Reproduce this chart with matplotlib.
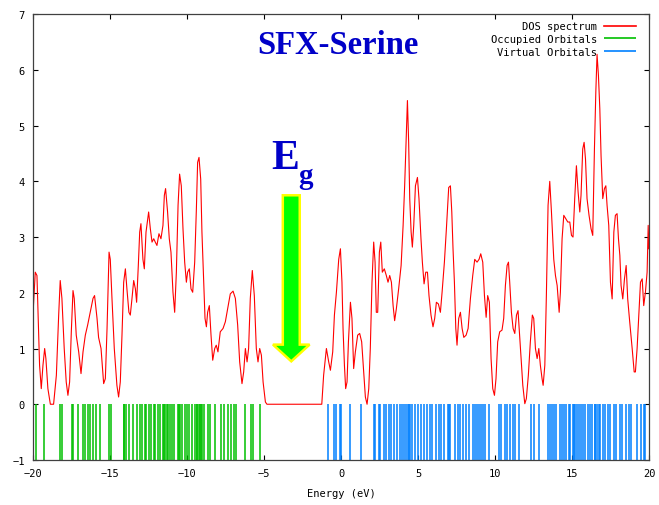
import matplotlib
matplotlib.use("Agg")
import matplotlib.pyplot as plt

# DOS spectrum (energy in eV, density)
dos_energy = [
    -20.00, -19.85, -19.74, -19.57, -19.46, -19.35, -19.24, -19.16, -19.03, -18.87,
    -18.66, -18.48, -18.33, -18.23, -18.12, -17.97, -17.84, -17.73, -17.62, -17.51,
    -17.40, -17.32, -17.19, -17.03, -16.88, -16.75, -16.60, -16.45, -16.28, -16.10,
    -16.00, -15.84, -15.74, -15.58, -15.41, -15.30, -15.19, -15.06, -14.98, -14.87,
    -14.72, -14.55, -14.44, -14.33, -14.22, -14.11, -14.00, -13.90, -13.77, -13.68,
    -13.57, -13.46, -13.35, -13.27, -13.16, -13.07, -12.99, -12.86, -12.77, -12.66,
    -12.49, -12.38, -12.27, -12.16, -12.06, -11.95, -11.82, -11.69, -11.56, -11.47,
    -11.39, -11.26, -11.15, -11.04, -10.91, -10.80, -10.69, -10.58, -10.48, -10.37,
    -10.26, -10.15, -10.04, -9.96, -9.85, -9.74, -9.63, -9.50, -9.39, -9.31,
    -9.22, -9.11, -9.03, -8.92, -8.83, -8.74, -8.66, -8.55, -8.44, -8.33,
    -8.20, -8.10, -7.99, -7.84, -7.66, -7.51, -7.36, -7.19, -7.01, -6.86,
    -6.71, -6.58, -6.43, -6.32, -6.21, -6.10, -6.00, -5.89, -5.76, -5.63,
    -5.50, -5.39, -5.28, -5.17, -5.06, -4.91, -4.81, -1.25, -1.13, -0.95,
    -0.80, -0.69, -0.54, -0.43, -0.30, -0.15, -0.04, 0.06, 0.13, 0.22,
    0.30, 0.39, 0.48, 0.61, 0.71, 0.82, 0.93, 1.08, 1.21, 1.34,
    1.47, 1.58, 1.69, 1.80, 1.90, 2.01, 2.12, 2.21, 2.29, 2.38,
    2.49, 2.58, 2.68, 2.81, 2.94, 3.05, 3.16, 3.27, 3.38, 3.48,
    3.59, 3.74, 3.90, 4.03, 4.13, 4.22, 4.31, 4.39, 4.46, 4.55,
    4.63, 4.72, 4.83, 4.96, 5.06, 5.19, 5.28, 5.39, 5.50, 5.61,
    5.71, 5.84, 5.97, 6.08, 6.19, 6.32, 6.45, 6.56, 6.71, 6.84,
    6.99, 7.10, 7.19, 7.27, 7.36, 7.45, 7.53, 7.64, 7.75, 7.86,
    7.97, 8.12, 8.25, 8.40, 8.55, 8.68, 8.83, 8.96, 9.07, 9.20,
    9.31, 9.42, 9.52, 9.63, 9.74, 9.85, 9.96, 10.06, 10.17, 10.30,
    10.45, 10.56, 10.67, 10.78, 10.87, 10.95, 11.06, 11.17, 11.28, 11.39,
    11.49, 11.58, 11.69, 11.80, 11.93, 12.03, 12.16, 12.29, 12.42, 12.51,
    12.62, 12.73, 12.84, 12.94, 13.05, 13.12, 13.23, 13.33, 13.44, 13.55,
    13.66, 13.81, 13.92, 14.03, 14.16, 14.24, 14.35, 14.46, 14.59, 14.72,
    14.85, 14.96, 15.06, 15.17, 15.28, 15.39, 15.50, 15.58, 15.69, 15.78,
    15.87, 15.97, 16.10, 16.23, 16.34, 16.45, 16.54, 16.62, 16.71, 16.80,
    16.88, 16.99, 17.10, 17.19, 17.27, 17.38, 17.49, 17.60, 17.71, 17.81,
    17.92, 18.01, 18.10, 18.18, 18.29, 18.40, 18.51, 18.61, 18.74, 18.90,
    19.03, 19.11, 19.22, 19.33, 19.44, 19.55, 19.65, 19.76, 19.87, 19.94,
    19.98,
]
dos_value = [
    1.60, 2.37, 2.31, 0.70, 0.28, 0.70, 1.00, 0.82, 0.28, 0.00,
    0.00, 0.52, 1.60, 2.22, 1.90, 1.00, 0.40, 0.16, 0.40, 1.30,
    2.04, 1.90, 1.24, 0.94, 0.55, 0.94, 1.24, 1.42, 1.65, 1.90,
    1.95, 1.54, 1.20, 1.00, 0.37, 0.46, 1.36, 2.73, 2.60, 1.90,
    1.00, 0.34, 0.13, 0.40, 1.24, 2.19, 2.43, 2.07, 1.65, 1.60,
    1.90, 2.22, 2.07, 1.83, 2.49, 3.09, 3.24, 2.60, 2.43, 3.09,
    3.45, 3.15, 2.91, 2.97, 2.91, 2.85, 3.06, 2.97, 3.21, 3.75,
    3.87, 3.45, 2.97, 2.73, 2.01, 1.65, 2.37, 3.57, 4.13, 3.92,
    3.15, 2.55, 2.19, 2.37, 2.43, 2.07, 2.01, 2.55, 3.51, 4.34,
    4.43, 4.04, 3.09, 2.25, 1.54, 1.39, 1.65, 1.77, 1.24, 0.79,
    1.00, 1.06, 0.94, 1.30, 1.36, 1.48, 1.71, 1.98, 2.03, 1.90,
    1.42, 0.76, 0.37, 0.58, 1.00, 0.76, 1.00, 1.90, 2.40, 1.95,
    1.00, 0.76, 1.00, 0.88, 0.40, 0.04, 0.00, 0.00, 0.52, 1.00,
    0.76, 0.61, 0.94, 1.60, 2.01, 2.60, 2.79, 2.19, 1.36, 0.70,
    0.28, 0.40, 1.12, 1.83, 1.54, 0.64, 0.94, 1.24, 1.27, 1.12,
    0.58, 0.13, 0.00, 0.28, 1.00, 2.19, 2.91, 2.55, 1.65, 1.65,
    2.73, 2.91, 2.37, 2.43, 2.31, 2.19, 2.31, 2.19, 1.77, 1.50,
    1.71, 2.07, 2.49, 3.21, 3.92, 4.70, 5.45, 4.70, 3.69, 3.09,
    2.82, 3.21, 3.92, 4.07, 3.69, 2.97, 2.55, 2.16, 2.37, 2.37,
    1.95, 1.60, 1.39, 1.54, 1.83, 1.80, 1.65, 2.01, 2.55, 3.15,
    3.89, 3.92, 3.45, 2.79, 2.19, 1.36, 1.06, 1.54, 1.65, 1.36,
    1.20, 1.24, 1.36, 1.90, 2.31, 2.60, 2.55, 2.60, 2.70, 2.55,
    1.95, 1.56, 1.95, 1.83, 0.82, 0.28, 0.16, 0.46, 1.12, 1.30,
    1.33, 1.54, 2.13, 2.49, 2.55, 2.19, 1.65, 1.36, 1.27, 1.60,
    1.68, 1.30, 0.82, 0.34, 0.01, 0.10, 0.52, 1.12, 1.60, 1.54,
    1.00, 0.82, 1.00, 0.70, 0.46, 0.34, 0.70, 1.95, 3.57, 4.00,
    3.45, 2.60, 2.31, 2.13, 1.65, 2.01, 2.97, 3.39, 3.33, 3.27,
    3.27, 3.03, 3.00, 3.69, 4.28, 3.81, 3.45, 3.75, 4.58, 4.70,
    4.40, 3.69, 3.39, 3.15, 3.03, 4.58, 5.60, 6.28, 5.90, 5.30,
    4.46, 3.69, 3.87, 3.92, 3.57, 3.21, 2.19, 1.89, 3.09, 3.39,
    3.42, 2.97, 2.67, 2.13, 1.89, 2.25, 2.49, 1.89, 1.48, 1.00,
    0.58, 0.58, 1.00, 1.60, 2.19, 2.25, 1.77, 2.01, 2.37, 3.21,
    2.79,
]

# orbital energies (eV)
occupied = [
    -19.81, -19.27, -18.27, -18.10, -17.45, -17.40, -17.10, -16.75, -16.65, -16.43,
    -16.32, -16.10, -15.91, -15.63, -15.05, -14.92, -14.11, -14.07, -13.96, -13.75,
    -13.51, -13.25, -13.03, -12.92, -12.71, -12.64, -12.49, -12.32, -12.17, -12.06,
    -11.91, -11.73, -11.55, -11.50, -11.41, -11.30, -11.23, -11.13, -10.97, -10.87,
    -10.61, -10.55, -10.48, -10.32, -10.16, -10.00, -9.90, -9.68, -9.51, -9.38,
    -9.32, -9.25, -9.18, -9.10, -9.03, -8.90, -8.64, -8.49, -8.16, -7.79,
    -7.58, -7.34, -7.14, -6.97, -6.82, -6.21, -5.84, -5.74, -5.24,
]
virtual = [
    -0.87, -0.48, -0.32, -0.09, 0.00, 0.56, 1.30, 2.12, 2.23, 2.44,
    2.55, 2.77, 2.92, 3.14, 3.25, 3.42, 3.64, 3.81, 3.94, 4.07,
    4.24, 4.32, 4.42, 4.50, 4.61, 4.82, 4.97, 5.19, 5.36, 5.58,
    5.75, 5.91, 6.19, 6.34, 6.51, 6.66, 6.95, 7.03, 7.10, 7.38,
    7.60, 7.75, 7.90, 8.12, 8.29, 8.55, 8.68, 8.83, 8.94, 9.11,
    9.22, 9.32, 9.63, 10.28, 10.41, 10.67, 10.78, 10.99, 11.14, 11.32,
    11.53, 12.36, 12.51, 12.88, 13.42, 13.55, 13.70, 13.85, 13.98, 14.19,
    14.35, 14.50, 14.63, 14.78, 14.89, 15.04, 15.10, 15.21, 15.32, 15.43,
    15.58, 15.71, 15.86, 16.01, 16.14, 16.30, 16.46, 16.51, 16.62, 16.73,
    16.84, 17.01, 17.16, 17.31, 17.44, 17.70, 17.88, 18.09, 18.25, 18.53,
    18.68, 18.83, 19.22, 19.48, 19.65, 19.76,
]

mono = "DejaVu Sans Mono"
serif = "Liberation Serif"

fig = plt.figure(figsize=(6.59, 5.06), dpi=100)
ax = fig.add_axes([0.050, 0.089, 0.935, 0.881])

ax.plot(dos_energy, dos_value, color="#ff0000", lw=0.8, label="DOS spectrum")
ax.vlines(occupied, -1, 0, color="#00c000", lw=1.1, label="Occupied Orbitals")
ax.vlines(virtual, -1, 0, color="#0080ff", lw=1.1, label="Virtual Orbitals")

ax.set_xlim(-20, 20)
ax.set_ylim(-1, 7)
ax.set_xticks(range(-20, 21, 5))
ax.set_yticks(range(-1, 8))
ax.tick_params(direction="in", length=3.5, width=0.8, top=True, right=True,
               labelsize=7.5, pad=6)
for lab in ax.get_xticklabels() + ax.get_yticklabels():
    lab.set_family(mono)
for s in ax.spines.values():
    s.set_color("#404040")
    s.set_linewidth(0.9)
ax.set_xlabel("Energy (eV)", family=mono, fontsize=7.5, labelpad=7)

leg = ax.legend(loc="upper right", bbox_to_anchor=(0.99, 1.0), markerfirst=False,
                frameon=False, prop={"family": mono, "size": 7.5}, handlelength=3.0,
                labelspacing=0.25, borderaxespad=0.3, handletextpad=0.67)
for h in leg.legend_handles:
    h.set_linewidth(1.2)

# annotations
ax.text(-0.2, 6.45, "SFX-Serine", family=serif, weight="bold", fontsize=23.5,
        color="#0000c8", ha="center", va="center")
ax.text(-4.5, 4.42, "E", family=serif, weight="bold", fontsize=30,
        color="#0000c8", ha="left", va="center")
ax.text(-2.75, 4.1, "g", family=serif, weight="bold", fontsize=21,
        color="#0000c8", ha="left", va="center")
ax.arrow(-3.23, 3.75, 0, 0.77 - 3.75, width=1.1, head_width=2.38, head_length=0.3,
         length_includes_head=True, fc="#00ff00", ec="#ffff00", lw=1.8, zorder=5)

fig.savefig("out.png", dpi=100)
